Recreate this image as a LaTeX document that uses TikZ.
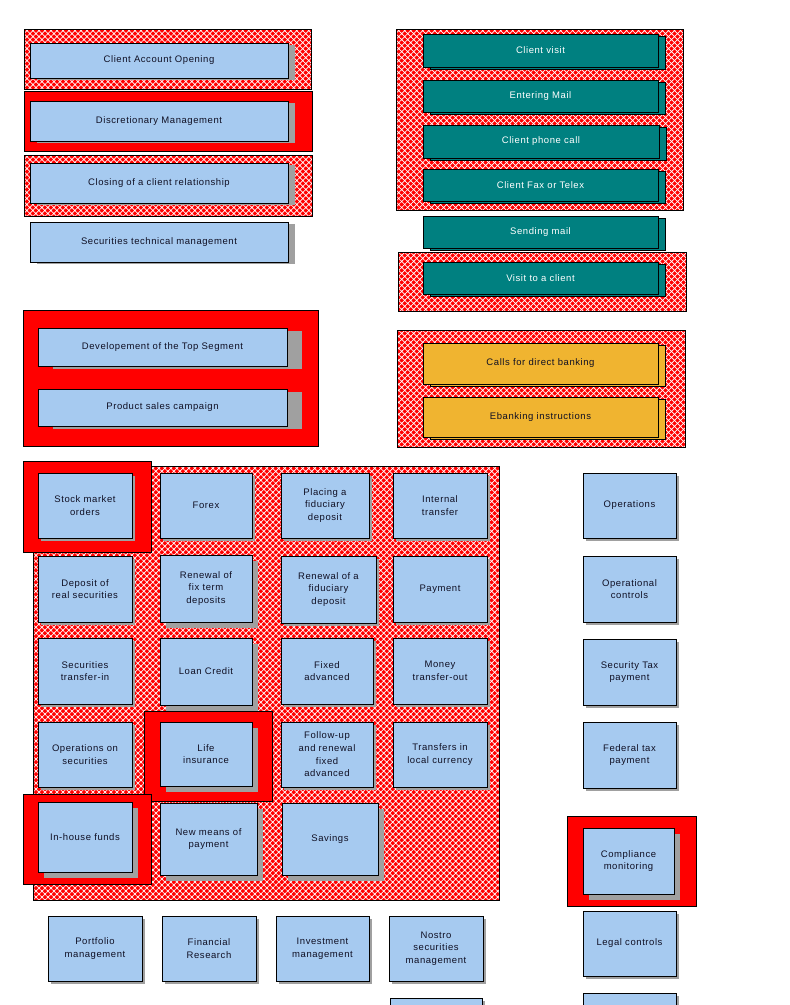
\documentclass[tikz,border=0pt]{standalone}
\usepackage{fontspec}
\setmainfont{Liberation Sans}
\newfontfamily\boxfont[LetterSpace=6]{Liberation Sans}
\usetikzlibrary{shadows,patterns.meta}

\definecolor{cardblue}{RGB}{166,202,240}
\definecolor{shadegray}{RGB}{160,160,160}
\definecolor{tealbox}{RGB}{0,128,128}
\definecolor{goldbox}{RGB}{240,180,48}
\definecolor{framered}{RGB}{255,0,0}
\definecolor{ink}{RGB}{16,16,36}

\tikzset{
  card/.style={draw=black, line width=0.8pt, fill=cardblue, inner sep=0pt,
    align=center, text=ink, font=\boxfont\fontsize{9.5}{12.7}\selectfont},
  shS/.style={drop shadow={shadow xshift=3pt, shadow yshift=-3pt, fill=shadegray, opacity=1}},
  shL/.style={drop shadow={shadow xshift=6pt, shadow yshift=-6pt, fill=shadegray, opacity=1}},
  shW/.style={drop shadow={shadow xshift=7pt, shadow yshift=-2pt, fill=shadegray, opacity=1}},
  shX/.style={drop shadow={shadow xshift=15pt, shadow yshift=-3pt, fill=shadegray, opacity=1}},
  tealcard/.style={card, fill=tealbox, text=white,
    drop shadow={shadow xshift=7pt, shadow yshift=-2pt, fill=tealbox, draw=black, line width=0.8pt, opacity=1}},
  goldcard/.style={card, fill=goldbox,
    drop shadow={shadow xshift=7pt, shadow yshift=-2pt, fill=goldbox, draw=black, line width=0.8pt, opacity=1}},
  hatchframe/.style={draw=black, line width=0.8pt, preaction={fill=framered},
    pattern={Hatch[angle=45, distance=4.24pt, line width=0.7pt]}, pattern color=white},
  solidframe/.style={draw=black, line width=0.8pt, fill=framered}
}

% \card{name}{style}{x1}{y1}{x2}{y2}{text}: a box given by its corners
\newcommand\card[7]{%
  \node[#2, minimum width={(#5-#3)*1pt}, minimum height={(#6-#4)*1pt}]
    (#1) at ({(#3+#5)/2},{(#4+#6)/2}) {#7};}

\begin{document}
\begin{tikzpicture}[x=1pt, y=-1pt]
\clip (0,0) rectangle (790,1005);
\fill[white] (0,0) rectangle (790,1005);

% ---- client relationship processes ----
\path[hatchframe] (24,29) rectangle (311,89);
\path[solidframe] (24,91) rectangle (312,151);
\path[hatchframe] (24,155) rectangle (312,216);
\card{cao}{card,shW}{30}{43}{288}{78}{Client Account Opening}
\card{dm}{card,shW}{30}{101}{288}{141}{Discretionary Management}
\card{ccr}{card,shW}{30}{163}{288}{203}{Closing of a client relationship}
\card{stm}{card,shW}{30}{222}{288}{262}{Securities technical management}

% ---- contact channels ----
\path[hatchframe] (396,29) rectangle (683,210);
\path[hatchframe] (398,252) rectangle (686,311);
\card{cv}{tealcard}{423}{34}{658}{67}{Client visit}
\card{em}{tealcard}{423}{80}{658}{112}{Entering Mail}
\card{cpc}{tealcard}{423}{125}{659}{158}{Client phone call}
\card{cft}{tealcard}{423}{169}{658}{201}{Client Fax or Telex}
\card{sm}{tealcard}{423}{216}{658}{248}{Sending mail}
\card{vc}{tealcard}{423}{262}{658}{294}{Visit to a client}

% ---- marketing ----
\path[solidframe] (23,310) rectangle (318,446);
\card{dts}{card,shX}{38}{328}{287}{366}{Developement of the Top Segment}
\card{psc}{card,shX}{38}{389}{287}{426}{Product sales campaign}

% ---- direct banking ----
\path[hatchframe] (397,330) rectangle (685,447);
\card{cdb}{goldcard}{423}{343}{658}{384}{Calls for direct banking}
\card{ebi}{goldcard}{423}{397}{658}{437}{Ebanking instructions}

% ---- transactions ----
\path[hatchframe] (33,466) rectangle (499,900);
\path[solidframe] (23,461) rectangle (151,552);
\path[solidframe] (144,711) rectangle (272,801);
\path[solidframe] (23,794) rectangle (151,884);

\card{smo}{card,shS}{38}{473}{132}{538}{Stock market\\orders}
\card{fx}{card,shS}{160}{473}{252}{538}{Forex}
\card{pfd}{card,shS}{281}{473}{369}{538}{Placing a\\fiduciary\\deposit}
\card{it}{card,shS}{393}{473}{487}{538}{Internal\\transfer}

\card{drs}{card,shS}{38}{556}{132}{622}{Deposit of\\real securities}
\card{rft}{card,shL}{160}{555}{252}{622}{Renewal of\\fix term\\deposits}
\card{rfd}{card,shS}{281}{556}{376}{623}{Renewal of a\\fiduciary\\deposit}
\card{pay}{card,shS}{393}{556}{487}{622}{Payment}

\card{sti}{card,shS}{38}{638}{132}{704}{Securities\\transfer-in}
\card{lc}{card,shL}{160}{638}{252}{705}{Loan Credit}
\card{fa}{card,shS}{281}{638}{373}{704}{Fixed\\advanced}
\card{mto}{card,shS}{393}{638}{487}{704}{Money\\transfer-out}

\card{oos}{card,shS}{38}{722}{132}{787}{Operations on\\securities}
\card{li}{card,shL}{160}{722}{252}{786}{Life\\insurance}
\card{fur}{card,shS}{281}{722}{373}{787}{Follow-up\\and renewal\\fixed\\advanced}
\card{tlc}{card,shS}{393}{722}{487}{787}{Transfers in\\local currency}

\card{ihf}{card,shL}{38}{802}{132}{872}{In-house funds}
\card{nmp}{card,shL}{160}{803}{257}{875}{New means of\\payment}
\card{sav}{card,shL}{282}{803}{378}{875}{Savings}

% ---- operations and controls ----
\card{ops}{card,shS}{583}{473}{676}{538}{Operations}
\card{opc}{card,shS}{583}{556}{676}{622}{Operational\\controls}
\card{stp}{card,shS}{583}{639}{676}{705}{Security Tax\\payment}
\card{ftp}{card,shS}{583}{722}{676}{788}{Federal tax\\payment}
\path[solidframe] (567,816) rectangle (696,906);
\card{cm}{card,shL}{583}{828}{674}{894}{Compliance\\monitoring}
\card{lgc}{card,shS}{583}{911}{676}{976}{Legal controls}
\card{rc}{card,shS}{583}{993}{676}{1060}{}

% ---- management ----
\card{pm}{card,shS}{48}{916}{142}{981}{Portfolio\\management}
\card{fr}{card,shS}{162}{916}{256}{981}{Financial\\Research}
\card{im}{card,shS}{276}{916}{369}{981}{Investment\\management}
\card{nsm}{card,shS}{389}{916}{483}{981}{Nostro\\securities\\management}
\card{bc}{card,shS}{390}{998}{482}{1060}{}
\end{tikzpicture}
\end{document}
